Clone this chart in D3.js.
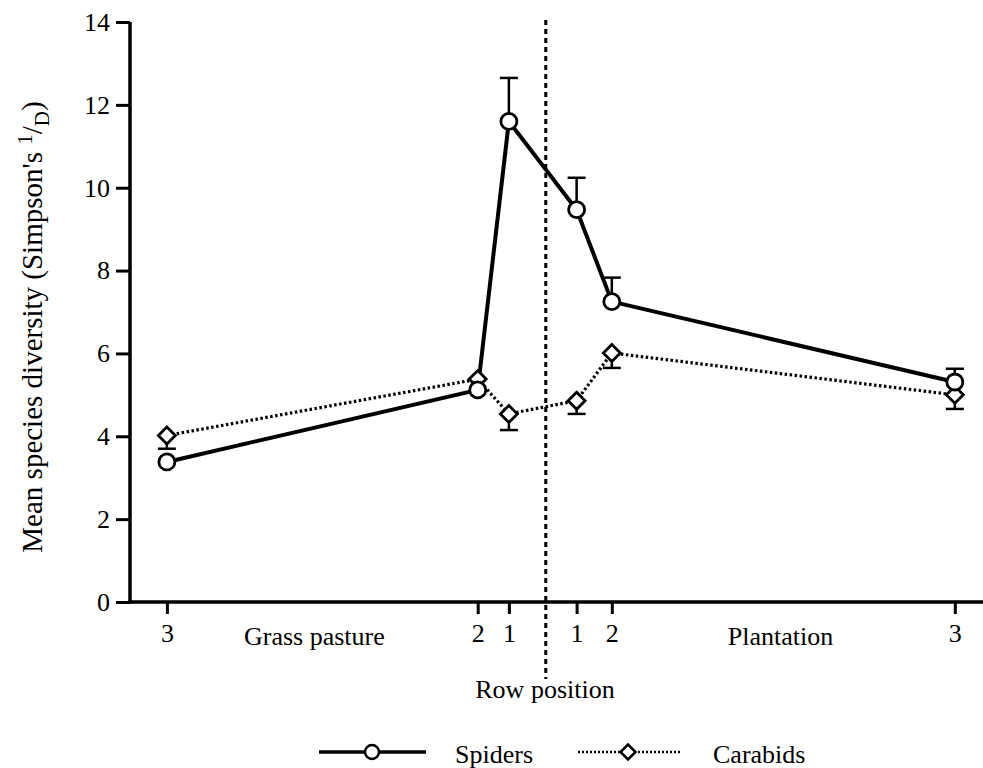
<!DOCTYPE html>
<html><head><meta charset="utf-8">
<script src="https://cdn.jsdelivr.net/npm/d3@7"></script>
<style>body{margin:0;background:#fff}svg{display:block}text{font-family:"Liberation Serif","Times New Roman",serif;fill:#000}</style>
</head><body>
<script>
const rowLabels = ["3","2","1","1","2","3"];
const rowPos = [-11.3, -2.03, -1.1, 0.92, 1.97, 12.2];
const habitats = ["Grass pasture","Plantation"];
const habitatPos = [-6.9, 7.0];
const spiders = [3.38, 5.12, 11.6, 9.47, 7.25, 5.31];
const spiderErr = [0, 0, 1.05, 0.77, 0.58, 0.32];
const carabids = [4.02, 5.38, 4.54, 4.86, 6.01, 5.0];
const carabidErr = [0.32, 0, 0.39, 0.32, 0.36, 0.34];
const yTicks = [0,2,4,6,8,10,12,14];
const boundary = 0;

const W=983,H=768;
const svg=d3.select("body").append("svg").attr("width",W).attr("height",H);
const x=d3.scaleLinear().domain([-12.4,13.1]).range([130,985]);
const y=d3.scaleLinear().domain([0,14]).range([602,22]);

// axes
const yAxis=svg.append("g").attr("transform","translate(130,0)")
  .call(d3.axisLeft(y).tickValues(yTicks).tickSize(14).tickPadding(6).tickFormat(d3.format("d")));
yAxis.select(".domain").attr("d",`M0,${y(14)}V${y(0)+1.5}`);
const xAxis=svg.append("g").attr("transform","translate(0,602)")
  .call(d3.axisBottom(x).tickValues(rowPos).tickSize(12).tickPadding(10).tickFormat((d,i)=>rowLabels[i]));
xAxis.select(".domain").attr("d",`M${x.range()[0]-1.5},0H${x.range()[1]}`);
svg.selectAll(".domain").attr("stroke","#000").attr("stroke-width",3.5);
svg.selectAll(".tick line").attr("stroke","#000").attr("stroke-width",3);
svg.selectAll(".tick text").attr("font-size",26).attr("font-family","Liberation Serif");

// habitat labels
svg.selectAll(".hab").data(habitats).enter().append("text")
  .attr("x",(d,i)=>x(habitatPos[i])).attr("y",645).attr("text-anchor","middle").attr("font-size",26).text(d=>d);
svg.append("text").attr("x",545).attr("y",698).attr("text-anchor","middle").attr("font-size",26).text("Row position");

// y label
const yl=svg.append("text").attr("transform","translate(42,327) rotate(-90)").attr("text-anchor","middle").attr("font-size",29);
yl.append("tspan").text("Mean species diversity (Simpson's ");
yl.append("tspan").attr("font-size",21).attr("dy",-10).text("1");
yl.append("tspan").attr("dy",10).text("/");
yl.append("tspan").attr("font-size",21).attr("dy",7).text("D");
yl.append("tspan").attr("dy",-7).text(")");

// boundary dashed
svg.append("line").attr("x1",x(boundary)).attr("x2",x(boundary)).attr("y1",y(14)-2).attr("y2",679)
  .attr("stroke","#000").attr("stroke-width",3).attr("stroke-dasharray","5,4");

const idx=d3.range(rowPos.length);
// error bars
function errBars(vals,errs,dir){
  const g=svg.append("g").attr("stroke","#000").attr("stroke-width",2.5);
  idx.filter(i=>errs[i]>0).forEach(i=>{
    const cx=x(rowPos[i]), y0=y(vals[i]), y1=y(vals[i]+dir*errs[i]);
    g.append("line").attr("x1",cx).attr("x2",cx).attr("y1",y0).attr("y2",y1);
    g.append("line").attr("x1",cx-9).attr("x2",cx+9).attr("y1",y1).attr("y2",y1);
  });
}
errBars(spiders,spiderErr,1);
errBars(carabids,carabidErr,-1);

svg.append("path").attr("d",d3.line().x(i=>x(rowPos[i])).y(i=>y(carabids[i]))(idx))
  .attr("fill","none").attr("stroke","#000").attr("stroke-width",3.2).attr("stroke-dasharray","2.5,2.5");
svg.append("path").attr("d",d3.line().x(i=>x(rowPos[i])).y(i=>y(spiders[i]))(idx))
  .attr("fill","none").attr("stroke","#000").attr("stroke-width",4);

const diamond=(cx,cy,r)=>`M${cx},${cy-r}L${cx+r},${cy}L${cx},${cy+r}L${cx-r},${cy}Z`;
svg.selectAll(".dia").data(idx).enter().append("path")
  .attr("d",i=>diamond(x(rowPos[i]),y(carabids[i]),8.5)).attr("fill","#fff").attr("stroke","#000").attr("stroke-width",2.8);
svg.selectAll(".circ").data(idx).enter().append("circle")
  .attr("cx",i=>x(rowPos[i])).attr("cy",i=>y(spiders[i])).attr("r",8)
  .attr("fill","#fff").attr("stroke","#000").attr("stroke-width",2.8);

// legend
const ly=752;
svg.append("line").attr("x1",319).attr("x2",426).attr("y1",ly).attr("y2",ly).attr("stroke","#000").attr("stroke-width",3.5);
svg.append("circle").attr("cx",372).attr("cy",ly).attr("r",7).attr("fill","#fff").attr("stroke","#000").attr("stroke-width",2.5);
svg.append("text").attr("x",455).attr("y",763).attr("font-size",26).text("Spiders");
svg.append("line").attr("x1",578).attr("x2",682).attr("y1",ly).attr("y2",ly).attr("stroke","#000").attr("stroke-width",2.5).attr("stroke-dasharray","2,2");
svg.append("path").attr("d",diamond(628,ly,7.5)).attr("fill","#fff").attr("stroke","#000").attr("stroke-width",2.5);
svg.append("text").attr("x",713).attr("y",763).attr("font-size",26).text("Carabids");
</script>
</body></html>
